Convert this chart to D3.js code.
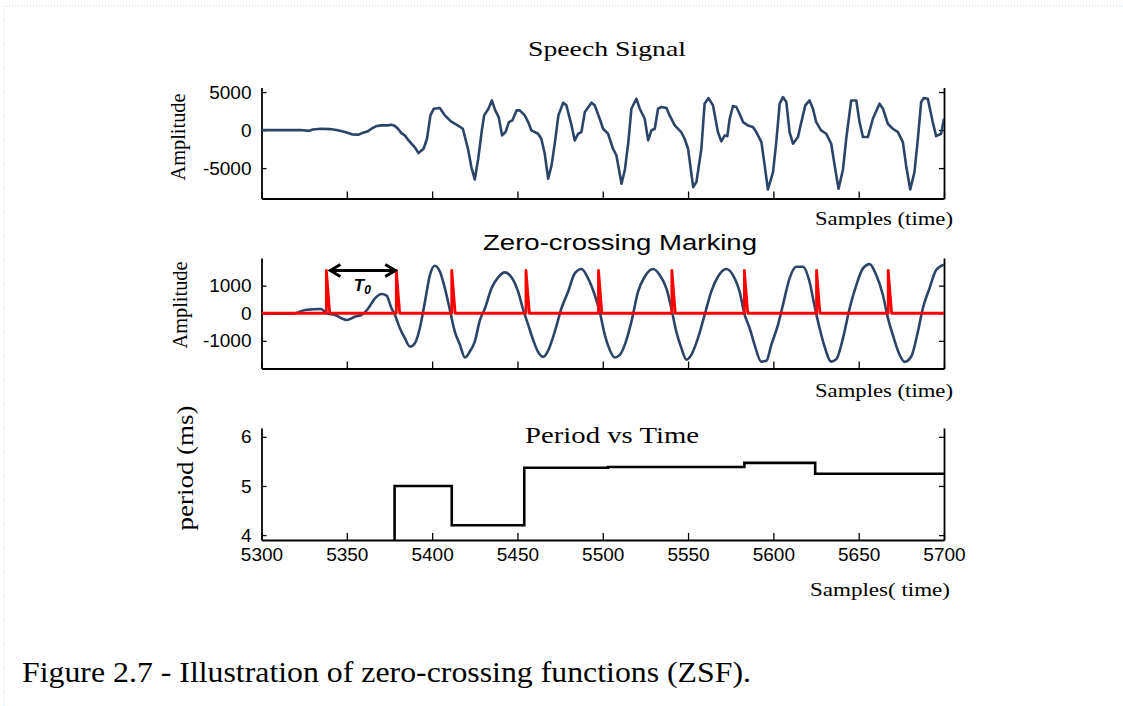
<!DOCTYPE html>
<html>
<head>
<meta charset="utf-8">
<script src="https://cdn.jsdelivr.net/npm/d3@7"></script>
<style>
  body { margin: 0; background: #fff; }
  svg { display: block; }
</style>
</head>
<body>
<svg id="chart" width="1123" height="706"></svg>
<script>
// sample axis shared by the three panels
const sampleTicks = [5300, 5350, 5400, 5450, 5500, 5550, 5600, 5650, 5700];

// speech signal [sample, amplitude]
const speechSignal = [
  [5300, 0], [5323, 0], [5328, -100], [5330, 80], [5335, 175], [5340, 130], [5344, 0],
  [5349, -260], [5353, -560], [5357, -600], [5359, -400], [5362, -200], [5364.5, 175],
  [5367, 500], [5370, 620], [5374, 620], [5376, 700], [5378, 580], [5380, 175],
  [5382, -400], [5384, -700], [5386, -1300], [5388, -1800], [5390, -2300], [5392, -3030],
  [5395, -2460], [5397, -1140], [5399, 1930], [5401, 2810], [5404.5, 2900], [5407.5, 1930],
  [5411, 1140], [5415, 614], [5418, 175], [5421, -2460], [5423, -4870], [5425, -6490],
  [5427, -3770], [5429, -260], [5430.5, 1930], [5433, 2810], [5435, 3900], [5437, 2590],
  [5439, 1710], [5441, -700], [5443, -260], [5445, 1050], [5447, 1270], [5449.5, 2590],
  [5451.4, 2590], [5454.3, 1930], [5456.3, 1050], [5458.2, -44], [5462.1, -480],
  [5464, -1140], [5466, -3110], [5468, -6400], [5470, -4650], [5472, -1580], [5474, 1930],
  [5476.8, 3600], [5478.7, 3250], [5481.7, 614], [5483.6, -1360], [5485.6, -480],
  [5487.5, -260], [5489.5, 2370], [5493.4, 3600], [5495.3, 3250], [5498.2, 1490],
  [5500.2, 175], [5503.1, -480], [5506, -2460], [5508, -3330], [5511, -7060], [5513, -5180],
  [5515, -1580], [5516.8, 2810], [5519.7, 4120], [5521.7, 2810], [5524.6, 1490],
  [5526.6, -1360], [5528.5, -44], [5530.5, 175], [5532.4, 2810], [5534.4, 3030],
  [5537.3, 2900], [5539.2, 1930], [5542.2, 614], [5546, -260], [5548, -1140], [5550, -2460],
  [5553, -7500], [5554.9, -6840], [5557.8, -2460], [5559.7, 3470], [5562, 4210],
  [5564.6, 3250], [5567.5, -260], [5569.5, -1490], [5571.5, -700], [5573, -790],
  [5574.4, 1490], [5576.3, 3160], [5578.3, 3030], [5580.2, 2150], [5582.2, 1050],
  [5585.1, 614], [5588, 395], [5590, -260], [5593, -1580], [5594.9, -4650], [5596.8, -7810],
  [5599.8, -5530], [5601.7, -1580], [5603.7, 3470], [5605.6, 4340], [5607.6, 3680],
  [5609.5, -260], [5611.5, -1800], [5614.4, -920], [5616.4, 1050], [5618.7, 3250],
  [5621.2, 3900], [5623.2, 2810], [5625.1, 1050], [5628, -44], [5631, -480], [5633.9, -1800],
  [5636.3, -5180], [5638.2, -7720], [5640.8, -5180], [5642.7, -1140], [5645.6, 3900],
  [5648.6, 3900], [5650.5, 1050], [5652.5, -920], [5655.4, -920], [5658.3, 1490],
  [5662.2, 3470], [5664.2, 2810], [5667.1, 830], [5670, 175], [5673, -260], [5675.9, -1580],
  [5677.8, -4650], [5680.2, -7810], [5682.7, -5530], [5684.7, -1140], [5686.6, 3680],
  [5688.2, 4210], [5690.5, 4120], [5693.4, 1050], [5695.4, -790], [5698.3, -480], [5700, 1490]
];

// filtered signal of the middle panel
const filteredSignal = [
  [5300, 0], [5312, -20], [5318, -20], [5325.5, 119], [5335, 155], [5338, 0], [5343, -61],
  [5350, -242], [5355, -120], [5358.7, -61], [5362.6, 180], [5366.5, 541], [5370.4, 697],
  [5373.3, 637], [5376.2, 180], [5378.2, -61], [5381.1, -541], [5384, -902], [5387, -1205],
  [5389.9, -1083], [5392.8, -541], [5395.8, 420], [5398.7, 1383], [5401.6, 1720],
  [5404.6, 1502], [5407.5, 902], [5410.4, 119], [5413.3, -664], [5416.3, -1144],
  [5419.2, -1600], [5422.1, -1386], [5425, -1025], [5428, -250], [5431, 180], [5434.8, 902],
  [5438.7, 1300], [5442.6, 1480], [5446.5, 1300], [5450.4, 781], [5453.4, 119],
  [5456.3, -421], [5459.2, -962], [5462.1, -1400], [5465.1, -1580], [5468, -1350],
  [5471.9, -664], [5475.8, 180], [5479.7, 781], [5483.6, 1444], [5487.5, 1600],
  [5491.4, 1263], [5495.3, 661], [5498.2, 60], [5501.2, -783], [5504.1, -1323],
  [5507, -1600], [5510, -1507], [5512.9, -1144], [5516.8, -303], [5520.7, 781],
  [5524.6, 1322], [5529.5, 1600], [5533.4, 1383], [5537.3, 902], [5540.2, 180],
  [5543.1, -664], [5546.1, -1263], [5549, -1680], [5551.9, -1507], [5555.8, -902],
  [5559.7, -61], [5563.6, 781], [5567.5, 1322], [5572.4, 1600], [5576.3, 1383],
  [5580.2, 781], [5583.2, -61], [5586.1, -542], [5589, -1144], [5592.9, -1750],
  [5595.9, -1720], [5598.8, -1144], [5602.7, -421], [5605.6, 300], [5609.5, 1263],
  [5613.4, 1682], [5617.3, 1682], [5621.2, 1141], [5624.2, 240], [5627.1, -542],
  [5630, -1204], [5633.9, -1750], [5636.9, -1660], [5640.8, -902], [5644.7, 180],
  [5648.6, 1020], [5652.5, 1623], [5656.4, 1780], [5660.3, 1383], [5664.2, 661],
  [5667.1, -168], [5670, -783], [5674, -1507], [5676.9, -1760], [5680.8, -1567],
  [5684.7, -664], [5687.6, 180], [5691.5, 902], [5695.4, 1564], [5700, 1760]
];

// positions of the red zero-crossing marks and their height
const zeroCrossMarks = [5338, 5379, 5411.5, 5455, 5497.5, 5540.5, 5583, 5625.3, 5667.3];
const markHeight = 1550;

// period (ms) step line: [start sample, value]
const periodSteps = [
  [5300, 0], [5378, 5.0], [5411.5, 4.2], [5454, 5.37], [5503, 5.385],
  [5583, 5.47], [5624.5, 5.25], [5700, 5.25]
];

const speechTicks = [-5000, 0, 5000];
const markTicks = [-1000, 0, 1000];
const periodTicks = [4, 5, 6];

const W = 1123, H = 706;
const sansFont = "Liberation Sans, Arial, sans-serif";
const serifFont = "Liberation Serif, Times New Roman, serif";
const signalColor = "#2b4468";
const plainNum = (d) => String(d); // hyphen minus, no thousands comma

const svg = d3.select("#chart");

svg.append("rect").attr("width", W).attr("height", H).attr("fill", "#fff");

// faint dotted page frame
svg.append("path")
  .attr("d", "M4,706 V6 H1123")
  .attr("fill", "none")
  .attr("stroke", "#bfdbe8")
  .attr("stroke-width", 1)
  .attr("stroke-dasharray", "1,2");

const x = d3.scaleLinear().domain([5300, 5700]).range([261.5, 944]);

function panel(id, y, yTicks, showXLabels) {
  const [y0, y1] = y.range(); // bottom, top
  const g = svg.append("g").attr("class", id);

  g.append("clipPath").attr("id", "clip-" + id)
    .append("rect")
    .attr("x", x.range()[0]).attr("y", y1)
    .attr("width", x.range()[1] - x.range()[0]).attr("height", y0 - y1);

  // left axis, ticks inside
  const left = g.append("g")
    .attr("transform", `translate(${x.range()[0]},0)`)
    .call(d3.axisLeft(y).tickValues(yTicks).tickSize(-5).tickSizeOuter(0).tickPadding(10)
      .tickFormat(plainNum));

  // right axis
  const right = g.append("g")
    .attr("transform", `translate(${x.range()[1]},0)`)
    .call(d3.axisRight(y).tickValues(yTicks).tickSize(-5).tickSizeOuter(0).tickFormat(""));

  // bottom axis
  const bottom = g.append("g")
    .attr("transform", `translate(0,${y0})`)
    .call(d3.axisBottom(x).tickValues(sampleTicks).tickSize(-7).tickSizeOuter(0).tickPadding(8)
      .tickFormat(showXLabels ? plainNum : ""));

  [left, right, bottom].forEach((a) => {
    a.attr("font-family", sansFont).attr("font-size", 19);
    a.selectAll("path.domain").attr("stroke", "#000").attr("stroke-width", 1.8);
    a.selectAll(".tick line").attr("stroke", "#000").attr("stroke-width", 1.3);
    a.selectAll(".tick text").attr("fill", "#000");
  });

  return g;
}

// ---- top: speech signal
const ySpeech = d3.scaleLinear().domain([-9000, 5600]).range([198.5, 87.5]);
const gTop = panel("speech", ySpeech, speechTicks, false);

gTop.append("path")
  .datum(speechSignal)
  .attr("clip-path", "url(#clip-speech)")
  .attr("fill", "none")
  .attr("stroke", signalColor)
  .attr("stroke-width", 2.6)
  .attr("stroke-linejoin", "round")
  .attr("d", d3.line().x((d) => x(d[0])).y((d) => ySpeech(d[1])));

// ---- middle: zero-crossing marking
const yMark = d3.scaleLinear().domain([-2000, 2000]).range([368.5, 258]);
const gMid = panel("marks", yMark, markTicks, false);

gMid.append("path")
  .datum(filteredSignal)
  .attr("clip-path", "url(#clip-marks)")
  .attr("fill", "none")
  .attr("stroke", signalColor)
  .attr("stroke-width", 2.6)
  .attr("stroke-linejoin", "round")
  .attr("d", d3.line().curve(d3.curveMonotoneX).x((d) => x(d[0])).y((d) => yMark(d[1])));

const redPoints = [[5300, 0]];
zeroCrossMarks.forEach((m) => {
  redPoints.push([m, 0], [m, markHeight], [m + 2, 0]);
});
redPoints.push([5700, 0]);

gMid.append("path")
  .datum(redPoints)
  .attr("clip-path", "url(#clip-marks)")
  .attr("fill", "none")
  .attr("stroke", "#ff0000")
  .attr("stroke-width", 2.8)
  .attr("stroke-linejoin", "round")
  .attr("d", d3.line().x((d) => x(d[0])).y((d) => yMark(d[1])));

// T0 double arrow between the first two marks
const ax0 = x(zeroCrossMarks[0]) + 4;
const ax1 = x(zeroCrossMarks[1]) - 1;
const ay = yMark(markHeight);
gMid.append("path")
  .attr("d", `M${ax0},${ay} H${ax1} M${ax0 + 10},${ay - 6} L${ax0},${ay} L${ax0 + 10},${ay + 6} M${ax1 - 10},${ay - 6} L${ax1},${ay} L${ax1 - 10},${ay + 6}`)
  .attr("fill", "none")
  .attr("stroke", "#000")
  .attr("stroke-width", 3)
  .attr("stroke-linejoin", "miter");

const t0 = gMid.append("text")
  .attr("x", (ax0 + ax1) / 2 - 9)
  .attr("y", ay + 21)
  .attr("font-family", sansFont)
  .attr("font-style", "italic")
  .attr("font-weight", "bold")
  .attr("font-size", 17)
  .text("T");
t0.append("tspan").attr("font-size", 12).attr("dy", 3).text("0");

// ---- bottom: period vs time
const yPeriod = d3.scaleLinear().domain([3.9, 6.18]).range([540, 428]);
const gBot = panel("period", yPeriod, periodTicks, true);

gBot.append("path")
  .datum(periodSteps)
  .attr("clip-path", "url(#clip-period)")
  .attr("fill", "none")
  .attr("stroke", "#000")
  .attr("stroke-width", 2.6)
  .attr("d", d3.line().curve(d3.curveStepAfter).x((d) => x(d[0])).y((d) => yPeriod(d[1])));

// ---- texts
function label(txt, xPos, yPos, opts) {
  const t = svg.append("text")
    .attr("x", xPos).attr("y", yPos)
    .attr("font-family", opts.font)
    .attr("font-size", opts.size)
    .attr("text-anchor", opts.anchor || "middle")
    .attr("fill", "#000")
    .text(txt);
  if (opts.len) t.attr("textLength", opts.len).attr("lengthAdjust", opts.adjust || "spacingAndGlyphs");
  if (opts.rotate) t.attr("transform", `rotate(-90,${xPos},${yPos})`);
  return t;
}

label("Speech Signal", 607, 56, { font: serifFont, size: 22, len: 158 });
label("Samples (time)", 953, 225, { font: serifFont, size: 19, anchor: "end", len: 138 });
label("Amplitude", 185, 137, { font: serifFont, size: 21, rotate: true, len: 87 });

label("Zero-crossing Marking", 620, 250, { font: sansFont, size: 22, len: 274 });
label("Samples (time)", 953, 397, { font: serifFont, size: 19, anchor: "end", len: 138 });
label("Amplitude", 187, 305, { font: serifFont, size: 21, rotate: true, len: 87 });

label("Period  vs Time", 612, 443, { font: serifFont, size: 23, len: 174 });
label("Samples( time)", 950, 596, { font: serifFont, size: 19, anchor: "end", len: 140 });
label("period (ms)", 193, 468, { font: serifFont, size: 24, rotate: true, len: 125 });

label("Figure 2.7 - Illustration of zero-crossing functions (ZSF).", 22, 682,
  { font: serifFont, size: 29, anchor: "start", len: 729 });
</script>
</body>
</html>
